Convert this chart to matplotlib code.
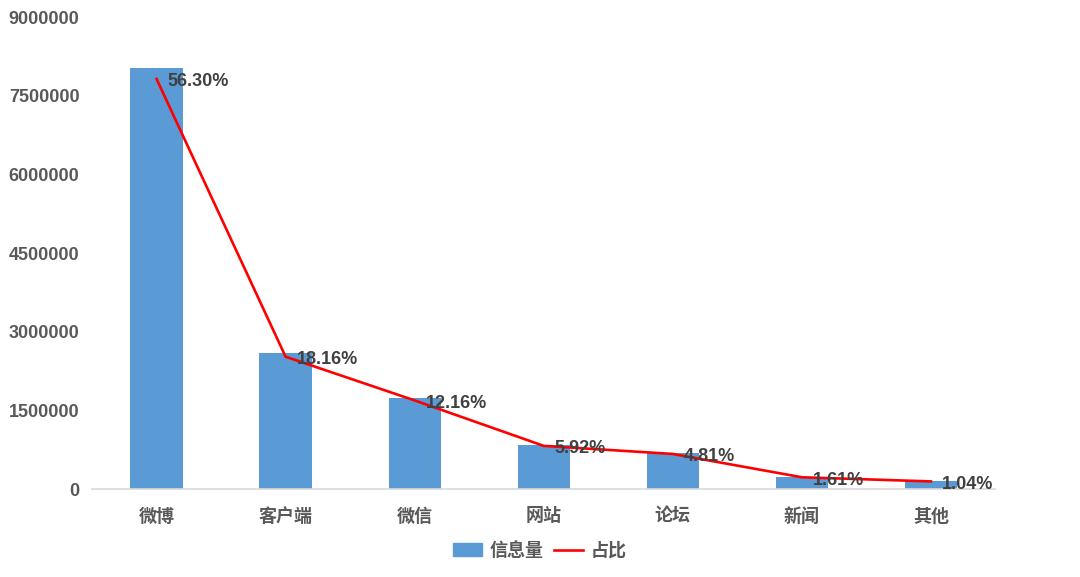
import matplotlib.pyplot as plt
import numpy as np
from matplotlib.patches import Patch
from matplotlib.lines import Line2D

plt.rcParams['font.family'] = ['Liberation Sans', 'Noto Sans CJK SC', 'DejaVu Sans']
plt.rcParams['font.weight'] = 'bold'

# 数据
categories = ["微博", "客户端", "微信", "网站", "论坛", "新闻", "其他"]
info_counts = [8037000, 2593000, 1736000, 845000, 687000, 230000, 148000]
shares = [56.30, 18.16, 12.16, 5.92, 4.81, 1.61, 1.04]
share_labels = ["56.30%", "18.16%", "12.16%", "5.92%", "4.81%", "1.61%", "1.04%"]
y_ticks = [0, 1500000, 3000000, 4500000, 6000000, 7500000, 9000000]

fig = plt.figure(figsize=(10.8, 5.77), dpi=100)
ax = fig.add_axes([92 / 1080, 88 / 577, 903.5 / 1080, 472 / 577])

x = np.arange(len(categories))
ax.bar(x, info_counts, width=0.405, color="#5B9BD5", zorder=2)
ax.set_xlim(-0.5, len(categories) - 0.5)
ax.set_ylim(0, 9000000)
ax.set_yticks(y_ticks)
ax.set_yticklabels([str(v) for v in y_ticks], fontsize=13, color="#595959", fontweight="bold")
ax.set_xticks(x)
ax.set_xticklabels(categories, fontsize=13, color="#595959", fontweight="bold")
ax.tick_params(axis="both", length=0)
ax.tick_params(axis="y", pad=9)
ax.tick_params(axis="x", pad=14)
for s in ["top", "right", "left"]:
    ax.spines[s].set_visible(False)
ax.spines["bottom"].set_color("#D9D9D9")
ax.spines["bottom"].set_linewidth(1.2)

# 占比 (次坐标轴, 隐藏)
ax2 = ax.twinx()
ax2.set_ylim(0, 64.8)
ax2.axis("off")
ax2.plot(x, shares, color="#FF0000", linewidth=1.9, zorder=3)
for xi, s, lab in zip(x, shares, share_labels):
    ax2.annotate(lab, (xi, s), xytext=(8, -2), textcoords="offset points",
                 ha="left", va="center", fontsize=13, color="#404040", fontweight="bold")

handles = [Patch(color="#5B9BD5"), Line2D([0], [0], color="#FF0000", linewidth=1.9)]
fig.legend(handles, ["信息量", "占比"], loc="center", bbox_to_anchor=(540 / 1080, 1 - 551 / 577),
           ncol=2, frameon=False, handlelength=1.6, handletextpad=0.4,
           columnspacing=0.6, labelcolor="#595959", prop={"weight": "bold", "size": 13})

fig.savefig("out.png", dpi=100)
